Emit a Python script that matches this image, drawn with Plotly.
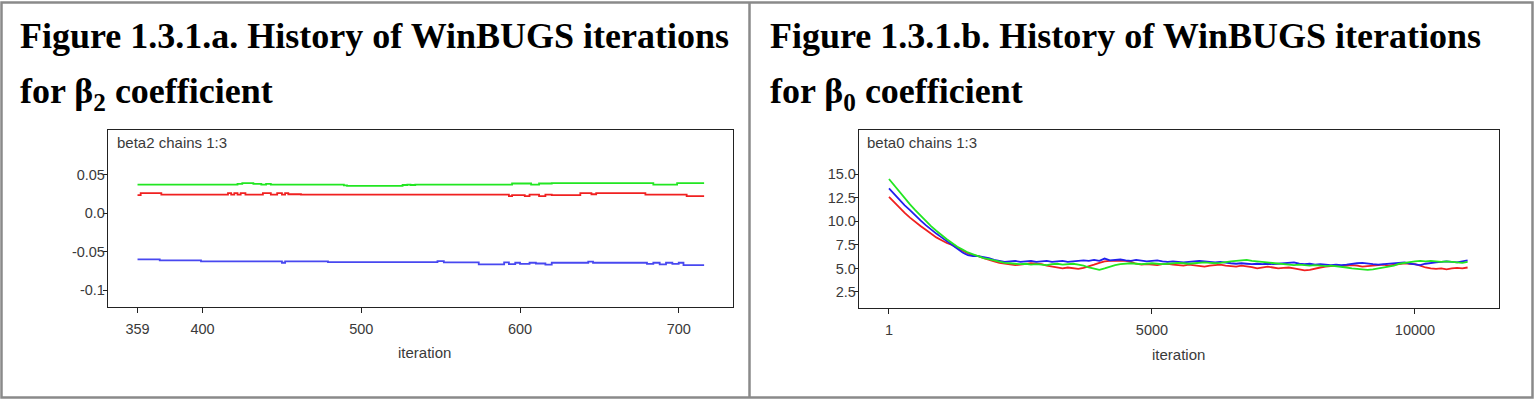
import plotly.graph_objects as go

W, H = 1537, 402

# ---------------- Panel a: beta2, iterations 359..716 (step-like chains) ----------------
A_X_TICKS = [359, 400, 500, 600, 700]
A_Y_TICKS = [0.05, 0.0, -0.05, -0.1]
A_Y_TICKTEXT = ["0.05", "0.0", "-0.05", "-0.1"]

A_RED_ITER = [359, 361, 374, 416, 418, 420, 422, 424, 427, 438, 443, 447, 450, 452, 454, 462,
              586, 593, 595, 603, 606, 612, 616, 620, 638, 645, 648, 650, 679, 705, 716]
A_RED_VAL = [0.0235, 0.026, 0.024, 0.026, 0.024, 0.026, 0.024, 0.026, 0.024, 0.026, 0.024, 0.026, 0.024,
             0.026, 0.0245, 0.024, 0.024, 0.022, 0.0235, 0.022, 0.024, 0.022, 0.024, 0.0235, 0.026, 0.0245,
             0.026, 0.026, 0.024, 0.022, 0.022]

A_BLUE_ITER = [359, 373, 399, 450, 452, 479, 548, 552, 574, 590, 593, 597, 600, 606, 610, 616, 620,
               625, 643, 646, 680, 684, 688, 692, 696, 700, 703, 716]
A_BLUE_VAL = [-0.060, -0.0615, -0.0628, -0.0645, -0.0628, -0.0638, -0.0625, -0.064, -0.0665, -0.064,
              -0.0662, -0.0645, -0.066, -0.0645, -0.0655, -0.067, -0.0645, -0.0645, -0.063, -0.0645,
              -0.066, -0.0645, -0.0665, -0.0645, -0.066, -0.0645, -0.0675, -0.0675]

A_GREEN_ITER = [359, 422, 425, 432, 437, 440, 443, 489, 491, 526, 529, 531, 534, 595, 607, 612, 620,
                684, 699, 716]
A_GREEN_VAL = [0.037, 0.038, 0.039, 0.038, 0.037, 0.038, 0.037, 0.036, 0.0355, 0.0365, 0.037, 0.0365,
               0.037, 0.0385, 0.037, 0.0385, 0.039, 0.037, 0.039, 0.039]

# ---------------- Panel b: beta0, iterations 1..11000 (one reading every 100 iterations) ----------------
B_X_TICKS = [1, 5000, 10000]
B_X_TICKTEXT = ["1", "5000", "10000"]
B_Y_TICKS = [2.5, 5.0, 7.5, 10.0, 12.5, 15.0]
B_Y_TICKTEXT = ["2.5", "5.0", "7.5", "10.0", "12.5", "15.0"]

B_RED = [12.6, 12.0, 11.4, 10.9, 10.4, 9.9, 9.5, 9.1, 8.7, 8.3, 8.0, 7.7, 7.5, 7.2, 6.9, 6.6, 6.4, 6.3, 6.1,
         5.9, 5.75, 5.6, 5.5, 5.4, 5.35, 5.4, 5.5, 5.55, 5.5, 5.45, 5.3, 5.2, 5.05, 5.0, 5.1, 5.0, 4.95,
         5.05, 5.2, 5.4, 5.6, 5.75, 5.8, 5.8, 5.75, 5.8, 5.7, 5.5, 5.4, 5.45, 5.4, 5.35, 5.45, 5.5, 5.4,
         5.35, 5.3, 5.4, 5.35, 5.25, 5.2, 5.3, 5.35, 5.4, 5.3, 5.25, 5.2, 5.3, 5.25, 5.15, 5.0, 5.1, 5.2,
         5.1, 5.0, 5.05, 5.1, 5.0, 4.9, 4.8, 4.85, 5.0, 5.1, 5.2, 5.25, 5.3, 5.25, 5.3, 5.35, 5.3, 5.2,
         5.25, 5.3, 5.35, 5.4, 5.3, 5.4, 5.5, 5.55, 5.5, 5.45, 5.3, 5.1, 5.0, 4.95, 5.0, 4.9, 5.0, 5.05,
         5.0, 5.1]
B_BLUE = [13.5, 12.9, 12.3, 11.7, 11.2, 10.6, 10.1, 9.6, 9.1, 8.7, 8.3, 7.9, 7.5, 7.1, 6.7, 6.4, 6.3, 6.3,
          6.2, 6.1, 5.9, 5.8, 5.7, 5.75, 5.8, 5.7, 5.75, 5.8, 5.7, 5.75, 5.8, 5.7, 5.75, 5.8, 5.7, 5.75,
          5.8, 5.85, 5.8, 5.9, 5.8, 6.05, 5.85, 5.9, 5.95, 5.85, 5.8, 5.9, 5.8, 5.75, 5.8, 5.85, 5.75, 5.7,
          5.75, 5.7, 5.65, 5.7, 5.75, 5.8, 5.75, 5.7, 5.65, 5.7, 5.6, 5.55, 5.5, 5.55, 5.5, 5.45, 5.5,
          5.45, 5.5, 5.45, 5.5, 5.55, 5.6, 5.65, 5.5, 5.45, 5.5, 5.4, 5.45, 5.4, 5.35, 5.4, 5.35, 5.4,
          5.5, 5.55, 5.6, 5.5, 5.45, 5.4, 5.45, 5.5, 5.55, 5.6, 5.65, 5.5, 5.4, 5.35, 5.5, 5.6, 5.65, 5.7,
          5.75, 5.7, 5.65, 5.75, 5.85]
B_GREEN = [14.5, 13.8, 13.1, 12.4, 11.8, 11.2, 10.6, 10.0, 9.5, 9.0, 8.5, 8.1, 7.7, 7.3, 7.0, 6.7, 6.5,
           6.3, 6.1, 6.0, 5.85, 5.75, 5.6, 5.55, 5.5, 5.45, 5.5, 5.4, 5.45, 5.4, 5.35, 5.45, 5.5, 5.4,
           5.45, 5.5, 5.4, 5.3, 5.1, 4.95, 4.85, 5.0, 5.2, 5.35, 5.45, 5.5, 5.55, 5.5, 5.45, 5.5, 5.55,
           5.5, 5.45, 5.5, 5.55, 5.6, 5.55, 5.5, 5.55, 5.6, 5.65, 5.6, 5.55, 5.6, 5.7, 5.75, 5.8, 5.85,
           5.9, 5.8, 5.75, 5.7, 5.65, 5.6, 5.5, 5.45, 5.4, 5.35, 5.4, 5.35, 5.3, 5.35, 5.3, 5.25, 5.3,
           5.25, 5.2, 5.1, 5.0, 4.95, 4.9, 4.85, 4.9, 5.0, 5.1, 5.2, 5.3, 5.5, 5.6, 5.7, 5.75, 5.8, 5.75,
           5.8, 5.75, 5.7, 5.75, 5.7, 5.65, 5.6, 5.7]
B_ITER = [1] + [100 * k for k in range(1, len(B_RED))]

RED, BLUE, GREEN = "#f02020", "#2020ee", "#22e622"
A_BLUE_COLOR = "#4848f0"

TITLE_FONT = dict(family="Liberation Serif, Times New Roman, serif", size=36, color="#000000")
AX_FONT = dict(family="Liberation Sans, Arial, sans-serif", size=15, color="#3a3a3a")
TICK_FONT = dict(family="Liberation Sans, Arial, sans-serif", size=14.5, color="#3a3a3a")

fig = go.Figure()

# panel a traces
fig.add_trace(go.Scatter(x=A_RED_ITER, y=A_RED_VAL, mode="lines", line=dict(color=RED, width=1.8, shape="hv"),
                         xaxis="x", yaxis="y", showlegend=False))
fig.add_trace(go.Scatter(x=A_BLUE_ITER, y=A_BLUE_VAL, mode="lines", line=dict(color=A_BLUE_COLOR, width=1.8, shape="hv"),
                         xaxis="x", yaxis="y", showlegend=False))
fig.add_trace(go.Scatter(x=A_GREEN_ITER, y=A_GREEN_VAL, mode="lines", line=dict(color=GREEN, width=1.8, shape="hv"),
                         xaxis="x", yaxis="y", showlegend=False))

# panel b traces
fig.add_trace(go.Scatter(x=B_ITER, y=B_RED, mode="lines", line=dict(color=RED, width=1.8),
                         xaxis="x2", yaxis="y2", showlegend=False))
fig.add_trace(go.Scatter(x=B_ITER, y=B_BLUE, mode="lines", line=dict(color=BLUE, width=1.8),
                         xaxis="x2", yaxis="y2", showlegend=False))
fig.add_trace(go.Scatter(x=B_ITER, y=B_GREEN, mode="lines", line=dict(color=GREEN, width=1.8),
                         xaxis="x2", yaxis="y2", showlegend=False))

def px_x(v):
    return v / W

def px_y(v):
    return 1 - v / H

box_common = dict(showline=True, mirror=True, linecolor="#222222", linewidth=1.3, showgrid=False,
                  zeroline=False, ticks="outside", tickwidth=1, tickcolor="#222222",
                  tickfont=TICK_FONT, fixedrange=True)

fig.update_layout(
    width=W, height=H, margin=dict(l=0, r=0, t=0, b=0),
    paper_bgcolor="white", plot_bgcolor="white",
    xaxis=dict(domain=[px_x(108), px_x(733)], range=[340.4, 734.2], tickvals=A_X_TICKS,
               anchor="y", ticklen=5, ticklabelstandoff=3, **box_common),
    yaxis=dict(domain=[px_y(307), px_y(130)], range=[-0.122, 0.108], tickvals=A_Y_TICKS,
               ticktext=A_Y_TICKTEXT, anchor="x", ticklen=4, ticklabelstandoff=-5, **box_common),
    xaxis2=dict(domain=[px_x(859), px_x(1499)], range=[-569, 11597], tickvals=B_X_TICKS,
                ticktext=B_X_TICKTEXT, anchor="y2", ticklen=5, ticklabelstandoff=3, **box_common),
    yaxis2=dict(domain=[px_y(308), px_y(130)], range=[0.8, 19.7], tickvals=B_Y_TICKS,
                ticktext=B_Y_TICKTEXT, anchor="x2", ticklen=4, ticklabelstandoff=-5, **box_common),
)

annotations = [
    dict(text="<b>Figure 1.3.1.a. History of WinBUGS iterations</b>", x=px_x(18), y=px_y(36),
         xanchor="left", yanchor="middle", font=TITLE_FONT),
    dict(text="<b>for β<sub>2</sub> coefficient</b>", x=px_x(18), y=px_y(93),
         xanchor="left", yanchor="middle", font=TITLE_FONT),
    dict(text="<b>Figure 1.3.1.b. History of WinBUGS iterations</b>", x=px_x(768), y=px_y(36),
         xanchor="left", yanchor="middle", font=TITLE_FONT),
    dict(text="<b>for β<sub>0</sub> coefficient</b>", x=px_x(768), y=px_y(93),
         xanchor="left", yanchor="middle", font=TITLE_FONT),
    dict(text="beta2 chains 1:3", x=px_x(115), y=px_y(142), xanchor="left", yanchor="middle", font=AX_FONT),
    dict(text="beta0 chains 1:3", x=px_x(865), y=px_y(142), xanchor="left", yanchor="middle", font=AX_FONT),
    dict(text="iteration", x=px_x(425), y=px_y(352), xanchor="center", yanchor="middle", font=AX_FONT),
    dict(text="iteration", x=px_x(1178), y=px_y(354), xanchor="center", yanchor="middle", font=AX_FONT),
]
for a in annotations:
    a.update(xref="paper", yref="paper", showarrow=False)
fig.update_layout(annotations=annotations)

# table borders
border = dict(color="#8a8a8a", width=2.5)
shapes = [
    dict(type="rect", x0=px_x(1.5), x1=px_x(1532.5), y0=px_y(397.5), y1=px_y(2.5), line=border),
    dict(type="line", x0=px_x(749.5), x1=px_x(749.5), y0=px_y(397.5), y1=px_y(2.5), line=border),
]
for s in shapes:
    s.update(xref="paper", yref="paper", layer="above")
fig.update_layout(shapes=shapes)

fig.write_html("out.html")
